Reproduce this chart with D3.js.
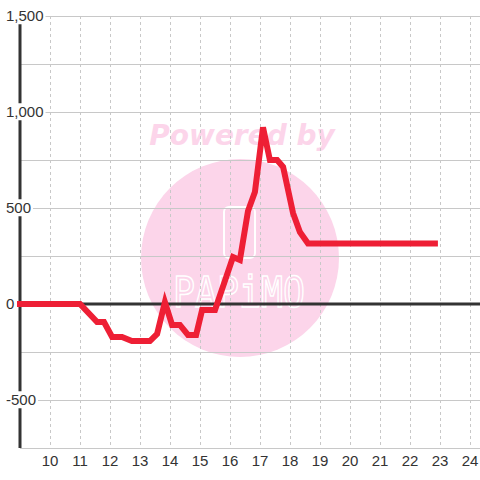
<!DOCTYPE html>
<html>
<head>
<meta charset="utf-8">
<script src="https://cdn.jsdelivr.net/npm/d3@7"></script>
<style>
    html, body { margin: 0; padding: 0; background: #fff; }
    svg { display: block; }
</style>
</head>
<body>
<div id="chart"></div>
<script>
// hours of the day and the value at each visible vertex of the red line
const hours = [9, 11, 11.57, 11.8, 12.07, 12.4, 12.73, 13.33, 13.57, 13.83, 14.07, 14.33, 14.6, 14.87,
    15.07, 15.5, 16.1, 16.33, 16.6, 16.83, 17.1, 17.33, 17.57, 17.77, 18.1, 18.33, 18.6, 22.83];
const values = [0, 0, -94, -94, -172, -172, -193, -193, -156, 10, -109, -109, -161, -161,
    -31, -31, 245, 229, 484, 583, 920, 750, 750, 714, 474, 375, 315, 315];

const xTicks = [10, 11, 12, 13, 14, 15, 16, 17, 18, 19, 20, 21, 22, 23, 24];
const yGrid = [-750, -500, -250, 0, 250, 500, 750, 1000, 1250, 1500];
const yLabelTicks = [1500, 1000, 500, 0, -500];
const yLabels = ["1,500", "1,000", "500", "0", "-500"];

const width = 480,
    height = 480;

const svg = d3.select("#chart")
    .append("svg")
    .attr("width", width)
    .attr("height", height);

const x = d3.scaleLinear().domain([9, 24.333]).range([20, 480]);
const y = d3.scaleLinear().domain([-750, 1500]).range([448, 16]);

svg.append("rect").attr("width", width).attr("height", height).attr("fill", "#fff");

// watermark
const wm = svg.append("g");
wm.append("circle")
    .attr("cx", 240).attr("cy", 258).attr("r", 99)
    .attr("fill", "#fcd5ea");
wm.append("text")
    .attr("x", 242).attr("y", 145)
    .attr("text-anchor", "middle")
    .attr("font-family", "DejaVu Sans")
    .attr("font-weight", "bold")
    .attr("font-style", "italic")
    .attr("font-size", 28)
    .attr("fill", "#fcd5ea")
    .text("Powered by");
wm.append("rect")
    .attr("x", 224).attr("y", 207).attr("width", 31).attr("height", 51).attr("rx", 5)
    .attr("fill", "none").attr("stroke", "#fff").attr("stroke-width", 2);
wm.append("text")
    .attr("x", 173).attr("y", 307)
    .attr("textLength", 132)
    .attr("lengthAdjust", "spacingAndGlyphs")
    .attr("font-family", "DejaVu Sans Mono")
    .attr("font-size", 42)
    .attr("fill", "none")
    .attr("stroke", "#fff")
    .attr("stroke-width", 1.5)
    .text("PAPiMO");

// grid
svg.append("g")
    .selectAll("line")
    .data(yGrid)
    .enter()
    .append("line")
    .attr("x1", x(9)).attr("x2", width)
    .attr("y1", (d) => y(d)).attr("y2", (d) => y(d))
    .attr("stroke", "#c8c8c8")
    .attr("stroke-width", 1)
    .attr("shape-rendering", "crispEdges");

svg.append("g")
    .selectAll("line")
    .data(xTicks)
    .enter()
    .append("line")
    .attr("x1", (d) => x(d)).attr("x2", (d) => x(d))
    .attr("y1", y(1500)).attr("y2", y(-750))
    .attr("stroke", "#c8c8c8")
    .attr("stroke-width", 1)
    .attr("stroke-dasharray", "3,3")
    .attr("shape-rendering", "crispEdges");

// axis lines
svg.append("line")
    .attr("x1", x(9)).attr("x2", width)
    .attr("y1", y(0)).attr("y2", y(0))
    .attr("stroke", "#333").attr("stroke-width", 3);
svg.append("line")
    .attr("x1", x(9)).attr("x2", x(9))
    .attr("y1", y(1500)).attr("y2", y(-750))
    .attr("stroke", "#333").attr("stroke-width", 3);

// x labels
svg.append("g")
    .selectAll("text")
    .data(xTicks)
    .enter()
    .append("text")
    .attr("x", (d) => x(d))
    .attr("y", 466)
    .attr("text-anchor", "middle")
    .attr("font-family", "Liberation Sans, Arial, sans-serif")
    .attr("font-size", 15)
    .attr("fill", "#333")
    .text((d) => d);

// line
const line = d3.line()
    .x((d, i) => x(hours[i]))
    .y((d) => y(d));

svg.append("path")
    .datum(values)
    .attr("d", line)
    .attr("fill", "none")
    .attr("stroke", "#ee1f35")
    .attr("stroke-width", 6)
    .attr("stroke-linecap", "square");

// y labels with background boxes
const yl = svg.append("g")
    .selectAll("g")
    .data(yLabelTicks)
    .enter()
    .append("g");
yl.append("rect").attr("fill", "#fff");
yl.append("text")
    .attr("x", 6)
    .attr("y", (d) => y(d))
    .attr("dy", "0.35em")
    .attr("font-family", "Liberation Sans, Arial, sans-serif")
    .attr("font-size", 15)
    .attr("fill", "#333")
    .text((d, i) => yLabels[i]);
yl.each(function () {
    const g = d3.select(this);
    const b = g.select("text").node().getBBox();
    g.select("rect")
        .attr("x", b.x - 2).attr("y", b.y)
        .attr("width", b.width + 4).attr("height", b.height);
});
</script>
</body>
</html>
